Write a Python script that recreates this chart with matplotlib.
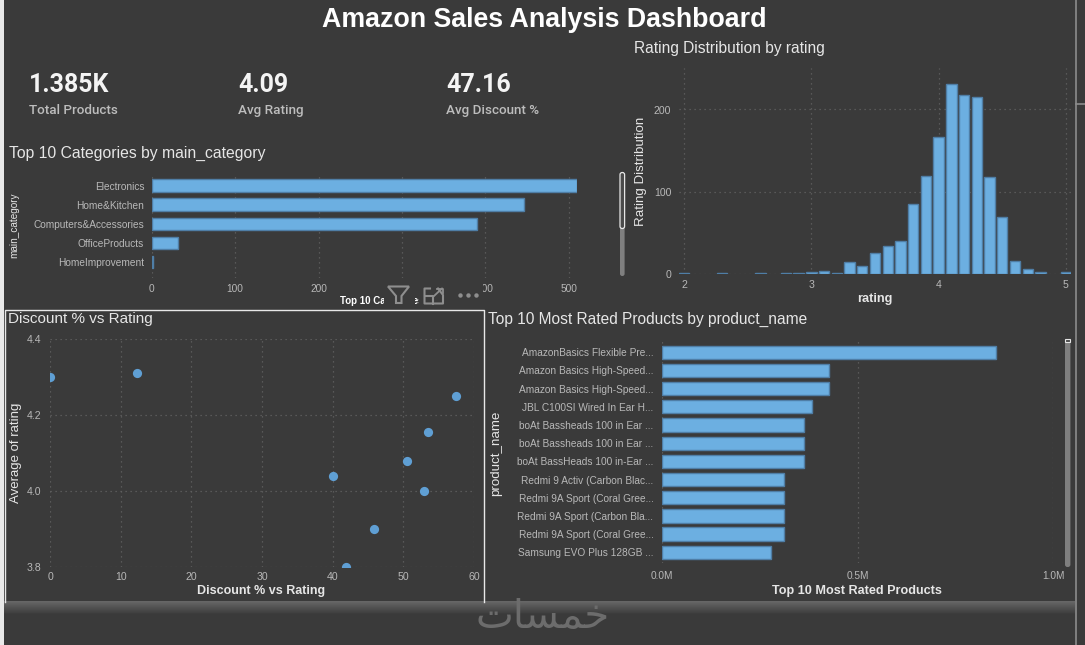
import numpy as np
import matplotlib
matplotlib.use("Agg")
import matplotlib.pyplot as plt
from matplotlib.patches import Rectangle, FancyBboxPatch, Polygon
from matplotlib.ticker import FuncFormatter

# ---- data -------------------------------------------------------------
main_categories = ["Electronics", "Home&Kitchen", "Computers&Accessories", "OfficeProducts", "HomeImprovement"]
category_counts = [510, 447, 390, 31, 2]

rating_values = [2.0, 2.3, 2.6, 2.8, 2.9, 3.0, 3.1, 3.2, 3.3, 3.4, 3.5, 3.6, 3.7, 3.8, 3.9,
                 4.0, 4.1, 4.2, 4.3, 4.4, 4.5, 4.6, 4.7, 4.8, 5.0]
rating_counts = [1, 1, 1, 2, 1, 3, 4, 2, 15, 10, 26, 34, 41, 85, 119,
                 167, 231, 217, 215, 118, 69, 16, 6, 3, 3]

discount_pct = [0, 12.3, 57.5, 53.5, 50.5, 40.1, 52.9, 45.9, 41.9]
avg_rating = [4.30, 4.31, 4.25, 4.155, 4.08, 4.04, 4.00, 3.90, 3.80]

product_names = ["AmazonBasics Flexible Pre...", "Amazon Basics High-Speed...", "Amazon Basics High-Speed...",
                 "JBL C100SI Wired In Ear H...", "boAt Bassheads 100 in Ear ...", "boAt Bassheads 100 in Ear ...",
                 "boAt BassHeads 100 in-Ear ...", "Redmi 9 Activ (Carbon Blac...", "Redmi 9A Sport (Coral Gree...",
                 "Redmi 9A Sport (Carbon Bla...", "Redmi 9A Sport (Coral Gree...", "Samsung EVO Plus 128GB ..."]
product_ratings = [0.853, 0.426, 0.426, 0.385, 0.363, 0.363, 0.363, 0.313, 0.313, 0.313, 0.313, 0.280]

kpi_values = ["1.385K", "4.09", "47.16"]
kpi_labels = ["Total Products", "Avg Rating", "Avg Discount %"]

# ---- style ------------------------------------------------------------
W, H = 1085, 645
BG = "#3a3a3a"
BAR = "#6cafe1"
EDGE = "#4f7ea6"
DOT = "#5f9fd4"
GRID = "#626262"
TICK = "#b8b8b8"
LABEL = "#e6e6e6"
plt.rcParams["font.family"] = ["Liberation Sans", "DejaVu Sans"]

fig = plt.figure(figsize=(W / 100, H / 100), dpi=100, facecolor=BG)


def make_axes(x0, x1, ytop, ybot):
    ax = fig.add_axes([x0 / W, 1 - ybot / H, (x1 - x0) / W, (ybot - ytop) / H], facecolor="none")
    for s in ax.spines.values():
        s.set_visible(False)
    ax.set_axisbelow(True)
    ax.grid(True, color=GRID, linestyle=(0, (1, 3)), linewidth=0.9)
    ax.tick_params(length=0, labelcolor=TICK, labelsize=7.6)
    return ax


# categories
ax1 = make_axes(151.8, 576.9, 173, 278)
ax1.barh(main_categories, category_counts, height=0.68, color=BAR, edgecolor=EDGE, linewidth=1)
ax1.set_xlim(0, 510)
ax1.set_ylim(4.84, -0.68)
ax1.set_xticks([0, 100, 200, 300, 400, 500])
ax1.tick_params(axis="y", pad=5.5, labelsize=7.3)
ax1.tick_params(axis="x", pad=4, labelsize=7.3)
ax1.grid(False, axis="y")

# histogram
ax2 = make_axes(679, 1071, 68.3, 274.3)
ax2.bar(rating_values, rating_counts, width=0.082, color=BAR, edgecolor=EDGE, linewidth=1)
ax2.set_xlim(1.96, 5.04)
ax2.set_ylim(0, 250)
ax2.set_xticks([2, 3, 4, 5])
ax2.set_yticks([0, 100, 200])
ax2.tick_params(axis="y", pad=5.5)
ax2.tick_params(axis="x", pad=4)

# scatter
ax3 = make_axes(50, 474, 339.3, 566.7)
ax3.scatter(discount_pct, avg_rating, s=44, color=DOT, linewidths=0, zorder=3)
ax3.set_xlim(0, 60)
ax3.set_ylim(3.8, 4.4)
ax3.set_xticks(range(0, 61, 10))
ax3.set_yticks([3.8, 4.0, 4.2, 4.4])
ax3.yaxis.set_major_formatter(FuncFormatter(lambda v, _: f"{v:.1f}"))
ax3.tick_params(axis="y", pad=6)
ax3.tick_params(axis="x", pad=4)

# products
ax4 = make_axes(661.8, 1053.2, 338, 563)
ax4.barh(range(len(product_names)), product_ratings, height=0.73, color=BAR, edgecolor=EDGE, linewidth=1)
ax4.set_yticks(range(len(product_names)), product_names)
ax4.set_xlim(0, 1.0)
ax4.set_ylim(11.59, -0.787)
ax4.set_xticks([0, 0.5, 1.0])
ax4.xaxis.set_major_formatter(FuncFormatter(lambda v, _: f"{v:.1f}M"))
ax4.tick_params(axis="y", pad=6, labelsize=7.3)
ax4.tick_params(axis="x", pad=6, labelsize=7.3)
ax4.grid(False, axis="y")

# ---- overlay in pixel coordinates ---------------------------------------
ov = fig.add_axes([0, 0, 1, 1], facecolor="none", zorder=10)
ov.axis("off")


def txt(x, y, s, size, color=LABEL, ha="left", va="center", zorder=2, **kw):
    return ov.text(x, y, s, fontsize=size, color=color, ha=ha, va=va, zorder=zorder, **kw)


# band with gradient at the bottom
grad = np.linspace(0.40, 0.228, 14).reshape(-1, 1)
ov.imshow(grad, extent=(4, 1075, 615, 601), cmap="gray", vmin=0, vmax=1, aspect="auto", zorder=1)

# frame and edges
ov.add_patch(Rectangle((0, 0), 4, H, color="#e9e9e9", lw=0, zorder=1))
ov.plot([4.5, 4.5, 483.5, 483.5], [602, 310, 310, 602], color="#e8e8e8", lw=1, zorder=2)
ov.plot([1075.5, 1075.5], [0, H], color="#8c8c8c", lw=1.2, zorder=2)
ov.plot([1076, W], [104, 104], color="#8c8c8c", lw=1.2, zorder=2)

# titles
txt(544, 20, "Amazon Sales Analysis Dashboard", 19.3, color="white", ha="center", fontweight="bold")
txt(634, 48, "Rating Distribution by rating", 11.2)
txt(9, 153, "Top 10 Categories by main_category", 11.3)
txt(8, 319, "Discount % vs Rating", 11.0)
txt(488, 319, "Top 10 Most Rated Products by product_name", 11.2)

# KPI cards
for x, v, l in zip([29, 238, 446], kpi_values, kpi_labels):
    txt(x, 85, v, 18, color="#f4f4f4", family="Roboto", fontweight="bold")
    txt(x, 110.5, l, 9.7, color="#bdbdbd", family="Roboto", fontweight="medium")

# axis titles
txt(14.5, 225, "main_category", 7.2, rotation=90, ha="center")
txt(641, 171, "Rating Distribution", 9.6, rotation=90, ha="center")
txt(875, 299, "rating", 9.2, ha="center", fontweight="bold")
txt(16, 453, "Average of rating", 9.5, rotation=90, ha="center")
txt(261.5, 591, "Discount % vs Rating", 9.0, ha="center", fontweight="bold")
txt(496, 453, "product_name", 9.6, rotation=90, ha="center")
txt(857, 591, "Top 10 Most Rated Products", 9.1, ha="center", fontweight="bold")
txt(340, 301, "Top 10 Categories", 7.0, color="white", fontweight="bold")

# hover icons hide part of the first chart's axis
ov.add_patch(Rectangle((384, 281), 30.5, 27, color=BG, lw=0, zorder=4))
ov.add_patch(Rectangle((419, 281), 63.5, 27, color=BG, lw=0, zorder=4))
ICON = "#8e8e8e"
ov.add_patch(Polygon([(388, 286.5), (409, 286.5), (401.5, 296), (401.5, 303), (396, 303), (396, 296)],
                     closed=True, fill=False, edgecolor=ICON, lw=1.5, zorder=5))
ov.plot([430, 424.5, 424.5, 443, 443, 438], [288.5, 288.5, 303.5, 303.5, 295, 288.5], color=ICON, lw=1.5, zorder=5)
ov.plot([424.5, 433, 433], [295.5, 295.5, 303.5], color=ICON, lw=1.5, zorder=5)
ov.plot([434, 442], [296, 288.5], color=ICON, lw=1.3, zorder=5)
ov.plot([437, 442.5, 442.5], [288.5, 288.5, 293], color=ICON, lw=1.3, zorder=5)
ov.plot([460, 468, 476], [295, 295, 295], ls="none", marker="o", ms=3.2, mfc=ICON, mec="none", zorder=5)

# scrollbars
ov.add_patch(FancyBboxPatch((620, 174), 4.6, 102, boxstyle="round,pad=0,rounding_size=2.2",
                            fc="#7f7f7f", ec="none", zorder=3))
ov.add_patch(FancyBboxPatch((620, 172.5), 4.6, 56, boxstyle="round,pad=0,rounding_size=2.2",
                            fc="#4a4a4a", ec="#e6e6e6", lw=0.9, zorder=3))
ov.add_patch(FancyBboxPatch((1065, 339), 5.4, 228, boxstyle="round,pad=0,rounding_size=2.4",
                            fc="#7f7f7f", ec="none", zorder=3))
ov.add_patch(Rectangle((1065, 338.5), 5.4, 3, fc="#4a4a4a", ec="#e6e6e6", lw=0.8, zorder=3))

# watermark
txt(542.5, 617, "\ufe95\ufe8e\ufeb4\ufee4\ufea7", 29, color="#6c6c6c", ha="center", family="DejaVu Sans", zorder=3)

ov.set_xlim(0, W)
ov.set_ylim(H, 0)

fig.savefig("out.png", dpi=100, facecolor=BG)
